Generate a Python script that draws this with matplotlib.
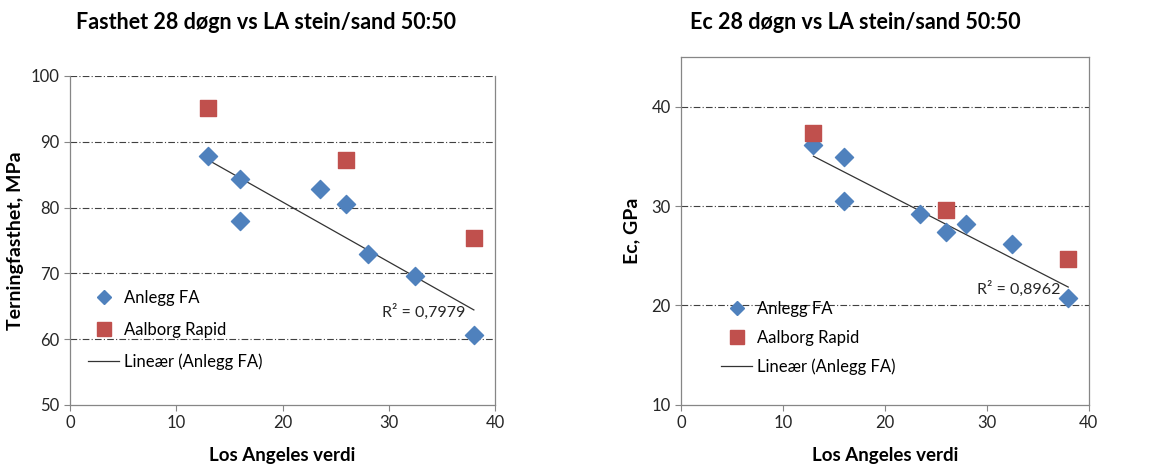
import matplotlib.pyplot as plt
import numpy as np
from matplotlib.lines import Line2D

# Los Angeles value for each mix
la_anlegg = [13, 16, 16, 23.5, 26, 28, 32.5, 38]
la_aalborg = [13, 26, 38]

# 28-day cube strength, MPa
fast_anlegg = [87.9, 84.4, 77.9, 82.8, 80.5, 72.9, 69.6, 60.7]
fast_aalborg = [95.1, 87.3, 75.3]

# 28-day E-modulus, GPa
ec_anlegg = [36.1, 34.9, 30.5, 29.2, 27.4, 28.15, 26.2, 20.8]
ec_aalborg = [37.3, 29.6, 24.7]

r2_labels = ["R² = 0,7979", "R² = 0,8962"]

BLUE = "#4F81BD"
RED = "#C0504D"
SPINE = "#868686"
TEXT = "#262626"

plt.rcParams["font.family"] = ["Lato", "DejaVu Sans"]


def draw_panel(ax, y_fa, y_ar, ylim, yticks, ylabel, ylabelpad, r2, r2_pos, box_top):
    ax.set_xlim(0, 40)
    ax.set_ylim(*ylim)
    ax.set_xticks(np.arange(0, 41, 10))
    ax.set_yticks(yticks)

    for t in yticks[1:]:
        ax.axhline(t, color="#404040", linewidth=0.8, linestyle=(0, (6, 2, 1, 2)), zorder=1)

    ax.scatter(la_anlegg, y_fa, marker="D", s=85, color=BLUE, zorder=3)
    ax.scatter(la_aalborg, y_ar, marker="s", s=130, color=RED, zorder=3)

    # linear trend through the Anlegg FA points
    k, m = np.polyfit(la_anlegg, y_fa, 1)
    xs = np.array([min(la_anlegg), max(la_anlegg)])
    ax.plot(xs, k * xs + m, color="#333333", linewidth=0.9, zorder=2)

    ax.text(r2_pos[0], r2_pos[1], r2, fontsize=11.5, color=TEXT, ha="left", va="center")

    ax.set_xlabel("Los Angeles verdi", fontsize=13.5, fontweight="bold", labelpad=11)
    ax.set_ylabel(ylabel, fontsize=14, fontweight="bold", labelpad=ylabelpad)
    ax.tick_params(axis="both", labelsize=12, colors=SPINE, labelcolor=TEXT,
                   direction="out", length=4)

    for side in ["left", "bottom", "right", "top"]:
        ax.spines[side].set_color(SPINE)
        ax.spines[side].set_linewidth(0.9)
    ax.spines["top"].set_visible(box_top)

    handles = [
        Line2D([0], [0], marker="D", color="none", markerfacecolor=BLUE,
               markeredgecolor=BLUE, markersize=7, label="Anlegg FA"),
        Line2D([0], [0], marker="s", color="none", markerfacecolor=RED,
               markeredgecolor=RED, markersize=10, label="Aalborg Rapid"),
        Line2D([0], [0], color="#333333", linewidth=0.9, label="Lineær (Anlegg FA)"),
    ]
    return handles


fig = plt.figure(figsize=(11.68, 4.66), dpi=100)
fig.patch.set_facecolor("white")
ax1 = fig.add_axes([0.0599, 0.131, 0.364, 0.706])
ax2 = fig.add_axes([0.583, 0.131, 0.349, 0.747])

h1 = draw_panel(ax1, fast_anlegg, fast_aalborg, (50, 100), np.arange(50, 101, 10),
                "Terningfasthet, MPa", 4.5, r2_labels[0], (29.4, 64.1), False)
h2 = draw_panel(ax2, ec_anlegg, ec_aalborg, (10, 45), np.arange(10, 41, 10),
                "Ec, GPa", 8, r2_labels[1], (29.1, 21.7), True)

fig.text(0.228, 0.952, "Fasthet 28 døgn vs LA stein/sand 50:50", fontsize=15.5,
         fontweight="bold", ha="center", va="center", color="black")
fig.text(0.732, 0.952, "Ec 28 døgn vs LA stein/sand 50:50", fontsize=15.5,
         fontweight="bold", ha="center", va="center", color="black")

legend_kw = dict(loc="upper left", bbox_transform=fig.transFigure, frameon=False,
                 fontsize=12, handlelength=1.86, handletextpad=0.3,
                 borderpad=0, borderaxespad=0)
ax1.legend(handles=h1, bbox_to_anchor=(88 / 1168, 0.378), labelspacing=0.95, **legend_kw)
ax2.legend(handles=h2, bbox_to_anchor=(721 / 1168, 0.354), labelspacing=0.75, **legend_kw)

fig.savefig("out.png", dpi=100, facecolor=fig.get_facecolor())
